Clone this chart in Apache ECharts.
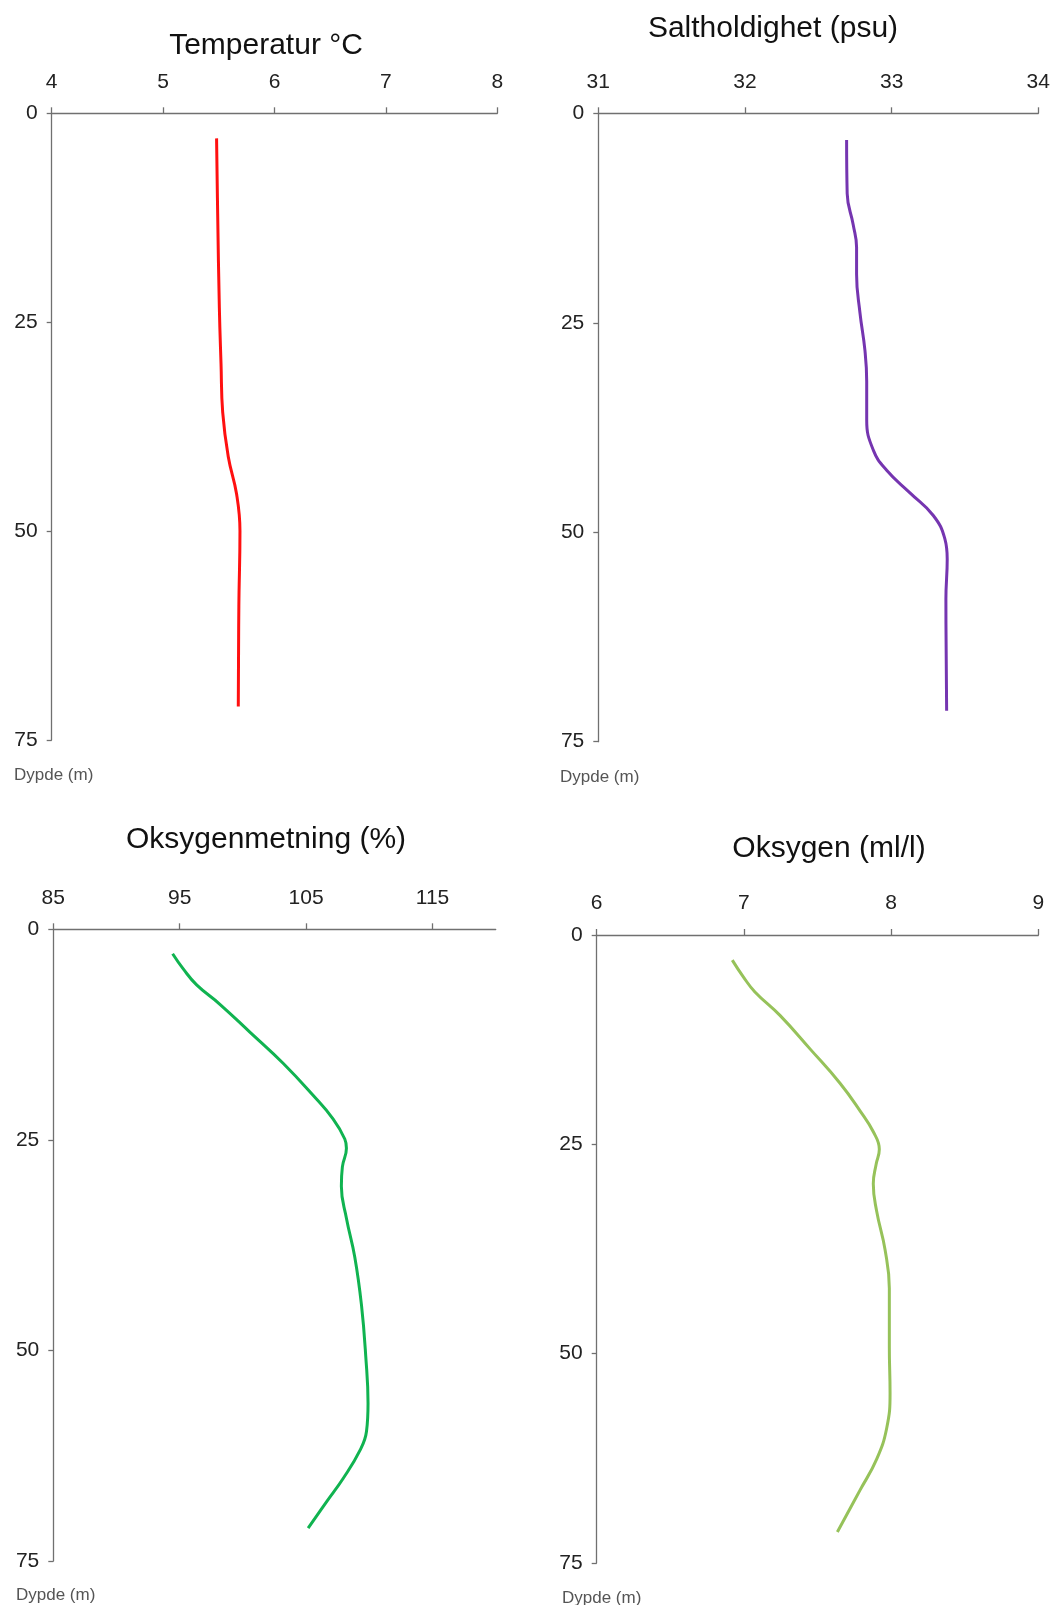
<!DOCTYPE html>
<html>
<head>
<meta charset="utf-8">
<script src="https://cdn.jsdelivr.net/npm/echarts@6/dist/echarts.min.js"></script>
<style>
html,body{margin:0;padding:0;background:#fff;}
#chart{width:1057px;height:1605px;}
</style>
</head>
<body>
<div id="chart"></div>
<script>
// ---- data ----
const titles = ["Temperatur °C", "Saltholdighet (psu)", "Oksygenmetning (%)", "Oksygen (ml/l)"];
const depthLabel = "Dypde (m)";
const depthTicks = [0, 25, 50, 75];

const tempTicks = [4, 5, 6, 7, 8];
const tempDepth  = [3, 12.1, 23.3, 30, 35.8, 41.1, 45.6, 50, 59, 71];
const tempValues = [5.48, 5.49, 5.505, 5.52, 5.535, 5.585, 5.66, 5.69, 5.68, 5.675];

const salTicks = [31, 32, 33, 34];
const salDepth  = [3.2, 9.6, 13.3, 16, 19.2, 23.8, 28.3, 32, 36.6, 40.2, 42.6, 45.3, 48, 50.8, 53.2, 58, 71.3];
const salValues = [32.693, 32.697, 32.738, 32.761, 32.761, 32.784, 32.818, 32.83, 32.83, 32.875, 32.966, 33.125, 33.284, 33.363, 33.379, 33.37, 33.375];

const oxSatTicks = [85, 95, 105, 115];
const oxSatDepth  = [2.9, 4.7, 6.6, 8.9, 12.2, 15.9, 19.7, 22.5, 24.9, 26, 28.2, 30.5, 34.3, 38.9, 44.6, 50.7, 56.3, 59.6, 61.9, 65.2, 68, 71.1];
const oxSatValues = [94.44, 95.28, 96.34, 98.18, 100.55, 103.18, 105.55, 107.13, 108.06, 108.19, 107.87, 107.79, 108.19, 108.85, 109.38, 109.72, 109.9, 109.78, 109.25, 107.93, 106.6, 105.16];

const oxTicks = [6, 7, 8, 9];
const oxDepth  = [3, 5, 6.8, 9.6, 13.6, 17.7, 21, 23.5, 25.6, 27.4, 29.7, 33, 37.6, 42.2, 49.2, 54.7, 58.9, 62.6, 66.3, 71.3];
const oxValues = [6.921, 6.996, 7.075, 7.245, 7.449, 7.653, 7.789, 7.879, 7.92, 7.898, 7.879, 7.902, 7.959, 7.988, 7.988, 7.993, 7.97, 7.902, 7.789, 7.635];

// ---- layout / style ----
const FONT = '"Liberation Sans", Arial, sans-serif';
const panels = [
  {grid:{left:51.7, top:113.3, width:445.6, height:626.7}, ticks:tempTicks, min:4, max:8,
   depth:tempDepth, values:tempValues, color:'#ff1010', title:[266,46], dlabel:[14,775]},
  {grid:{left:598.3, top:113.3, width:440, height:628.4}, ticks:salTicks, min:31, max:34,
   depth:salDepth, values:salValues, color:'#7535b0', title:[773,29], dlabel:[560,777]},
  {grid:{left:53.3, top:929.3, width:442.4, height:631.7}, ticks:oxSatTicks, min:85, max:120,
   depth:oxSatDepth, values:oxSatValues, color:'#10b350', title:[266,840], dlabel:[16,1595]},
  {grid:{left:596.7, top:935, width:441.6, height:628}, ticks:oxTicks, min:6, max:9,
   depth:oxDepth, values:oxValues, color:'#96c25a', title:[829,849], dlabel:[562,1598]}
];

const axisLineStyle = {color:'#707070', width:1.3};
const grid = [], xAxis = [], yAxis = [], series = [], graphic = [];
panels.forEach((p, i) => {
  grid.push(Object.assign({containLabel:false}, p.grid));
  xAxis.push({
    type:'value', gridIndex:i, position:'top', min:p.min, max:p.max,
    axisLine:{show:true, onZero:false, lineStyle:axisLineStyle},
    axisTick:{show:true, length:6, lineStyle:axisLineStyle, customValues:p.ticks},
    axisLabel:{show:true, margin:21, fontSize:21, fontFamily:FONT, color:'#222', customValues:p.ticks},
    splitLine:{show:false}
  });
  yAxis.push({
    type:'value', gridIndex:i, inverse:true, min:0, max:75,
    axisLine:{show:true, onZero:false, lineStyle:axisLineStyle},
    axisTick:{show:true, length:5, lineStyle:axisLineStyle, customValues:depthTicks},
    axisLabel:{show:true, margin:14, fontSize:21, fontFamily:FONT, color:'#222', customValues:depthTicks},
    splitLine:{show:false}
  });
  series.push({
    type:'line', xAxisIndex:i, yAxisIndex:i, smooth:0.45, showSymbol:false, symbol:'none',
    lineStyle:{color:p.color, width:3}, itemStyle:{color:p.color},
    data:p.depth.map((d, k) => [p.values[k], d])
  });
  graphic.push({type:'text', x:p.title[0], y:p.title[1],
    style:{text:titles[i], fill:'#111', font:'30px ' + FONT, align:'center', verticalAlign:'middle', textAlign:'center', textVerticalAlign:'middle'}});
  graphic.push({type:'text', x:p.dlabel[0], y:p.dlabel[1],
    style:{text:depthLabel, fill:'#555', font:'17px ' + FONT, align:'left', verticalAlign:'middle', textAlign:'left', textVerticalAlign:'middle'}});
});

const chart = echarts.init(document.getElementById('chart'), null, {renderer:'canvas'});
chart.setOption({
  animation:false,
  backgroundColor:'#ffffff',
  grid, xAxis, yAxis, series, graphic
});
</script>
</body>
</html>
